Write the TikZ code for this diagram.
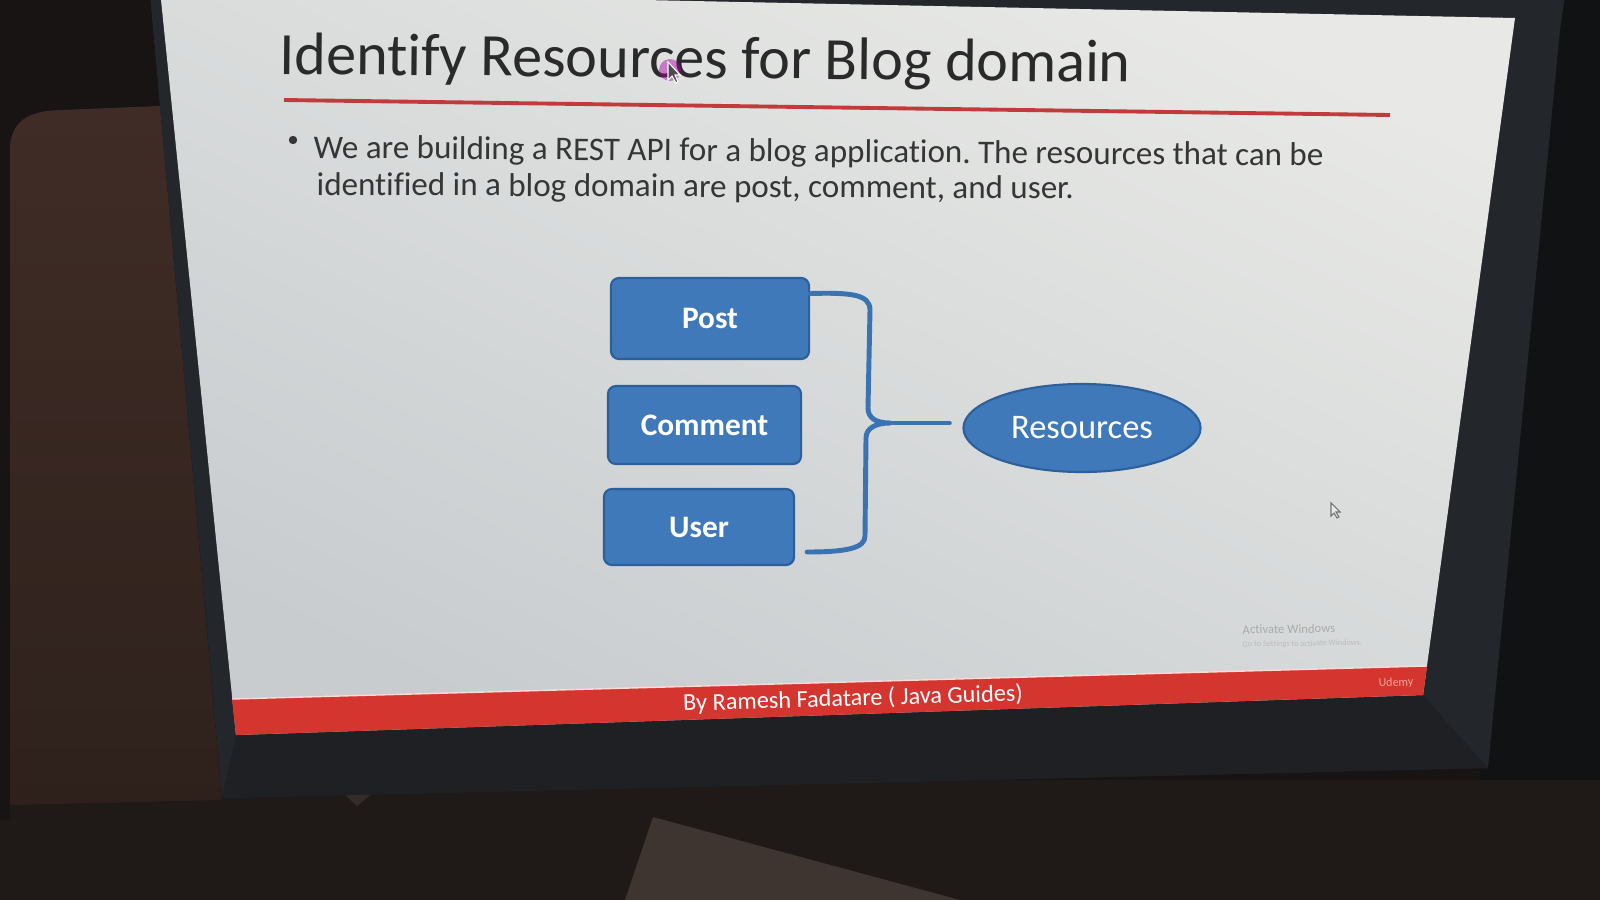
\documentclass[tikz,border=0pt]{standalone}
\usepackage{fontspec}
\setmainfont{Carlito}[Ligatures={NoCommon}]
\usetikzlibrary{shapes.geometric,calc}
\frenchspacing

\definecolor{roomdark}{HTML}{171413}
\definecolor{floor}{HTML}{1F1917}
\definecolor{bezel}{HTML}{23262A}
\definecolor{bezellow}{HTML}{1E2023}
\definecolor{farright}{HTML}{101214}
\definecolor{wallpanel}{HTML}{402C26}
\definecolor{wallpaneldark}{HTML}{2E211C}
\definecolor{paper}{HTML}{3E3430}
\definecolor{slidelight}{HTML}{E8E9E6}
\definecolor{slidedark}{HTML}{C8CCCF}
\definecolor{redbar}{HTML}{D5352F}
\definecolor{rulered}{HTML}{C23A3C}
\definecolor{titleink}{HTML}{2A2A2A}
\definecolor{bodyink}{HTML}{363636}
\definecolor{boxblue}{HTML}{3F79BA}
\definecolor{boxedge}{HTML}{2D5F9B}
\definecolor{bracecol}{HTML}{3B72B2}
\definecolor{watermark}{HTML}{A9ABAB}
\definecolor{udemypink}{HTML}{F2A49E}

\newcommand\slideTitleFont{\fontsize{17.1pt}{20pt}\selectfont}
\newcommand\slideBodyFont{\fontsize{9.4pt}{11pt}\selectfont}
\newcommand\slideBoxFont{\fontsize{8.9pt}{10pt}\selectfont\bfseries}
\newcommand\slideOvalFont{\fontsize{9.8pt}{11pt}\selectfont}
\newcommand\slideFootFont{\fontsize{6.9pt}{8pt}\selectfont}

\begin{document}
\begin{tikzpicture}[x=0.01cm, y=-0.01cm,
  resbox/.style={draw=boxedge, line width=0.6pt, fill=boxblue, rounded corners=0.08cm,
    text=white, font=\slideBoxFont, inner sep=0pt},
  resoval/.style={ellipse, draw=boxedge, line width=0.6pt, fill=boxblue,
    text=white, font=\slideOvalFont, inner sep=0pt,
    minimum width=2.37cm, minimum height=0.88cm},
  brace/.style={draw=bracecol, line width=1.4pt, line cap=round, line join=round},
  bodyline/.style={anchor=base west, text=bodyink, font=\slideBodyFont, inner sep=0pt},
]
\useasboundingbox (0,0) rectangle (1600,900);

% room behind the monitor
\fill[roomdark] (0,0) rectangle (1600,900);
\fill[farright] (1480,0) rectangle (1600,900);
\fill[floor] (0,780) rectangle (1600,900);

% wooden panel on the left
\shade[top color=wallpanel, bottom color=wallpaneldark]
  (10,805) -- (10,150) .. controls (10,120) and (30,111) .. (60,110)
  -- (160,106) -- (222,800) -- cycle;
\fill[roomdark] (0,100) rectangle (10,820);

% objects on the desk
\fill[paper] (653,817) -- (960,900) -- (625,900) -- cycle;
\fill[paper!85!black] (321,772) -- (398,772) -- (357,806) -- cycle;

% monitor bezel
\fill[bezel] (150,-5) -- (1565,-5) -- (1560,30) -- (1488,768) -- (222,798) -- cycle;
\fill[bezellow] (236,735) -- (1423,695) -- (1488,768) -- (222,798) -- cycle;

% slide surface
\shade[top color=slidelight, bottom color=slidedark, shading angle=-25]
  (160,-10) -- (1515,18) -- (1423,695) -- (236,735) -- cycle;

% footer bar
\fill[redbar] (232,699) -- (1427,666) -- (1423,695) -- (236,735) -- cycle;
\draw[white!85!red, line width=0.4pt] (232,699) -- (1427,666);
\node[text=white, font=\slideFootFont, rotate=1.7, inner sep=0pt] (footer)
  at (853,699) {By Ramesh Fadatare ( Java Guides)};
\node[text=udemypink, font=\fontsize{3.4pt}{4pt}\selectfont, rotate=2, inner sep=0pt] (udemy)
  at (1396,683) {Udemy};

% title and rule
\node[anchor=base west, text=titleink, font=\slideTitleFont, rotate=-0.55, inner sep=0pt]
  (title) at (279,74) {Identify Resources for Blog domain};
\draw[rulered, line width=1.1pt] (284,100) -- (1390,115);

% pointer on the title
\fill[violet!70!magenta, opacity=0.45] (670,70) circle (11);
\draw[white, fill=black!70, line width=0.3pt] (668,62) -- (668,80) -- (672,76) -- (676,83) -- (678,82) -- (675,75) -- (680,75) -- cycle;

% bullet text
\fill[bodyink] (293,140) circle (4.2);
\node[bodyline, rotate=-0.45] (line1) at (313,158)
  {We are building a REST API for a blog application. The resources that can be};
\node[bodyline, rotate=-0.3] (line2) at (316,195)
  {identified in a blog domain are post, comment, and user.};

% resource boxes
\node[resbox, minimum width=1.98cm, minimum height=0.81cm] (post) at (710,318.5) {Post};
\node[resbox, minimum width=1.93cm, minimum height=0.78cm] (comment) at (704.5,425) {Comment};
\node[resbox, minimum width=1.90cm, minimum height=0.76cm] (user) at (699,527) {User};
\node[resoval] (res) at (1082,428) {Resources};

% grouping brace
\coordinate (braceTop) at ($(post.east)+(0,-25)$);
\coordinate (braceBot) at ($(user.east)+(12,25)$);
\coordinate (braceTip) at (890,423);
\coordinate (braceEnd) at ($(res.west)+(-13,-5)$);
\draw[brace] (braceTop) .. controls +(40,-1) and +(0,-16) .. (870,310)
  -- (868,408) .. controls +(0,10) and +(-14,0) .. (braceTip)
  .. controls +(-14,0) and +(0,-10) .. (866,438)
  -- (865,536) .. controls +(0,12) and +(40,0) .. (braceBot);
\draw[brace] (braceTip) -- (braceEnd);

% mouse pointer
\draw[black!55, fill=slidelight, line width=0.3pt] (1331,503) -- (1331,516) -- (1334,513) -- (1337,518) -- (1339,517) -- (1336,512) -- (1340,512) -- cycle;

% activation watermark
\node[anchor=base west, text=watermark, font=\fontsize{3.6pt}{4pt}\selectfont, rotate=0.8, inner sep=0pt]
  (wm1) at (1242,634) {Activate Windows};
\node[anchor=base west, text=watermark!80!white, font=\fontsize{2.35pt}{3pt}\selectfont, rotate=0.8, inner sep=0pt]
  (wm2) at (1242,647) {Go to Settings to activate Windows.};
\end{tikzpicture}
\end{document}
